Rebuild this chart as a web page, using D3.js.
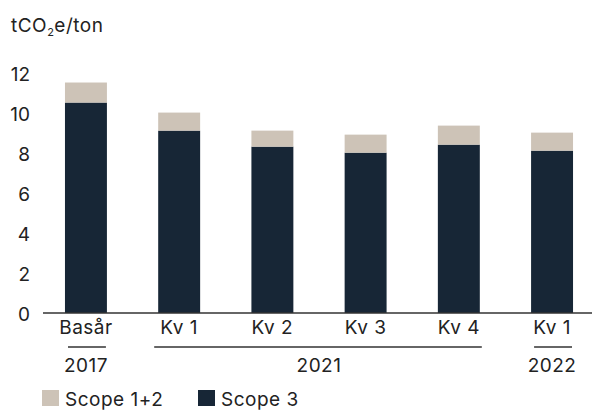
<!DOCTYPE html>
<html><head><meta charset="utf-8">
<script src="https://cdn.jsdelivr.net/npm/d3@7"></script>
<style>
body{margin:0;background:#fff;}
text{font-family:Inter,"Noto Sans",sans-serif;fill:#222;letter-spacing:0.5px;}
</style></head>
<body><svg id="c" width="592" height="410"></svg>
<script>
const categories = ["Basår","Kv 1","Kv 2","Kv 3","Kv 4","Kv 1 "];
const scope3 = [10.5, 9.1, 8.3, 8.0, 8.4, 8.1];
const scope12 = [1.0, 0.9, 0.8, 0.9, 0.95, 0.9];
const yTicks = [0,2,4,6,8,10,12];
const years = [{label:"2017", from:0, to:0},{label:"2021", from:1, to:4},{label:"2022", from:5, to:5}];
const seriesNames = ["Scope 1+2","Scope 3"];
const colors = {"Scope 1+2":"#cdc3b7","Scope 3":"#172636"};

const svg = d3.select("#c");
const x = d3.scaleBand().domain(categories).range([37,601]).paddingInner(0.55).paddingOuter(0.3);
const y = d3.scaleLinear().domain([0,12]).range([313,72.5]);

// title
const t = svg.append("text").attr("x",11).attr("y",32).style("font-size","19px");
t.append("tspan").text("tCO");
t.append("tspan").text("2").attr("dy",4).style("font-size","11px");
t.append("tspan").text("e/ton").attr("dy",-4);

// y axis labels
const ya = svg.append("g").attr("transform","translate(30,0)")
  .call(d3.axisLeft(y).tickValues(yTicks).tickSize(0).tickPadding(0));
ya.select(".domain").remove();
ya.selectAll("text").style("font-size","19px").style("letter-spacing","0px").attr("dy","0.4em").attr("fill","#222");

// stacked bars
const rows = categories.map((c,i)=>({cat:c,"Scope 3":scope3[i],"Scope 1+2":scope12[i]}));
const stack = d3.stack().keys(["Scope 3","Scope 1+2"])(rows);
svg.append("g").selectAll("g").data(stack).join("g").attr("fill",d=>colors[d.key])
  .selectAll("rect").data(d=>d).join("rect")
  .attr("x",d=>x(d.data.cat)).attr("width",x.bandwidth())
  .attr("y",d=>y(d[1])).attr("height",d=>y(d[0])-y(d[1]));

// x axis
svg.append("line").attr("x1",43).attr("x2",592).attr("y1",y(0)).attr("y2",y(0))
  .attr("stroke","#333").attr("stroke-width",1.3);
const xa = svg.append("g").attr("transform",`translate(0,${y(0)})`)
  .call(d3.axisBottom(x).tickSize(0).tickPadding(8));
xa.select(".domain").remove();
xa.selectAll("text").style("font-size","19px").attr("fill","#222");

// year groups
years.forEach(g=>{
  const x1 = x(categories[g.from])+2, x2 = x(categories[g.to])+x.bandwidth()-1;
  const x1b = g.from===g.to ? x1+1 : x1-6;
  const x2b = g.from===g.to ? x2 : x2+3;
  svg.append("line").attr("x1",x1b).attr("x2",x2b).attr("y1",347).attr("y2",347)
    .attr("stroke","#333").attr("stroke-width",1.3);
  svg.append("text").attr("x",(x(categories[g.from])+x(categories[g.to])+x.bandwidth())/2)
    .attr("y",372).attr("text-anchor","middle").style("font-size","19px").text(g.label);
});

// legend
const lg = svg.append("g").attr("transform","translate(42,390)");
const lx = [0,156];
seriesNames.forEach((s,i)=>{
  lg.append("rect").attr("x",lx[i]).attr("y",0).attr("width",17).attr("height",16).attr("fill",colors[s]);
  lg.append("text").attr("x",lx[i]+23).attr("y",15.5).style("font-size","19px").text(s);
});
</script></body></html>
